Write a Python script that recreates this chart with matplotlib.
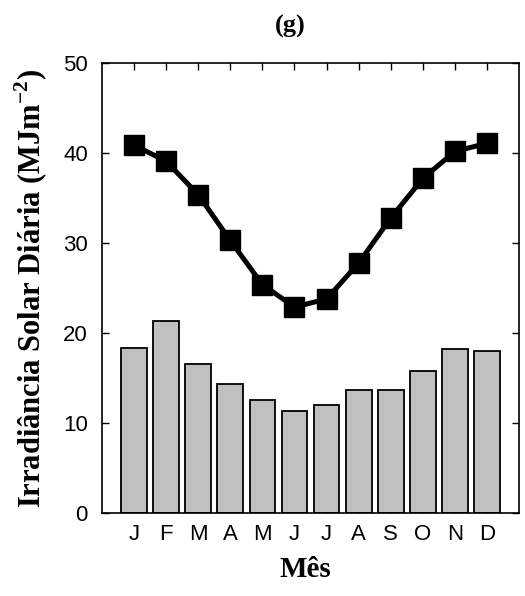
import matplotlib

matplotlib.use("Agg")
import matplotlib.pyplot as plt
import numpy as np

months = ["J", "F", "M", "A", "M", "J", "J", "A", "S", "O", "N", "D"]
# daily solar irradiance at surface (bars) and top of atmosphere (line), MJ m^-2
surface = [18.4, 21.4, 16.6, 14.4, 12.6, 11.3, 12.0, 13.7, 13.7, 15.8, 18.2, 18.0]
top_atm = [40.9, 39.1, 35.4, 30.3, 25.4, 22.9, 23.8, 27.8, 32.8, 37.2, 40.2, 41.1]
yticks = [0, 10, 20, 30, 40, 50]


def main() -> None:
    plt.rcParams["mathtext.fontset"] = "custom"
    plt.rcParams["mathtext.rm"] = "Liberation Serif:bold"
    plt.rcParams["mathtext.bf"] = "Liberation Serif:bold"

    fig = plt.figure(figsize=(5.25, 5.96), dpi=100)
    ax = fig.add_axes([0.194, 0.139, 0.795, 0.755])
    x = np.arange(1, len(months) + 1)

    ax.bar(x, surface, width=0.8, color="#c0c0c0", edgecolor="black", linewidth=1.3, zorder=2)
    ax.plot(x, top_atm, color="black", linewidth=3.6, marker="s", markersize=14, zorder=3)

    ax.set_xlim(0, 13)
    ax.set_ylim(0, 50)
    ax.set_xticks(x)
    ax.set_xticklabels(months, fontfamily="Liberation Sans", fontsize=16)
    ax.set_yticks(yticks)
    ax.set_yticklabels([str(v) for v in yticks], fontfamily="Liberation Sans", fontsize=16)
    ax.tick_params(direction="in", length=5, width=1, top=True, right=True)
    ax.tick_params(axis="y", pad=10)
    ax.tick_params(axis="x", pad=8)
    for sp in ax.spines.values():
        sp.set_linewidth(1.2)

    serif = {"family": "Liberation Serif", "weight": "bold"}
    fig.text(290 / 525, 1 - 26 / 596, "(g)", fontdict=serif, fontsize=19, ha="center", va="center")
    ax.set_xlabel("Mês", fontdict=serif, fontsize=21)
    ax.xaxis.set_label_coords((305 - 102) / 417, -(556 - 513) / 450)
    ax.set_ylabel("Irradiância Solar Diária (MJm$^{-2}$)", fontdict=serif, fontsize=22)
    ax.yaxis.set_label_coords(-(102 - 50) / 417, 0.5)

    fig.savefig("out.png", dpi=100)
    plt.close(fig)


if __name__ == "__main__":
    main()
